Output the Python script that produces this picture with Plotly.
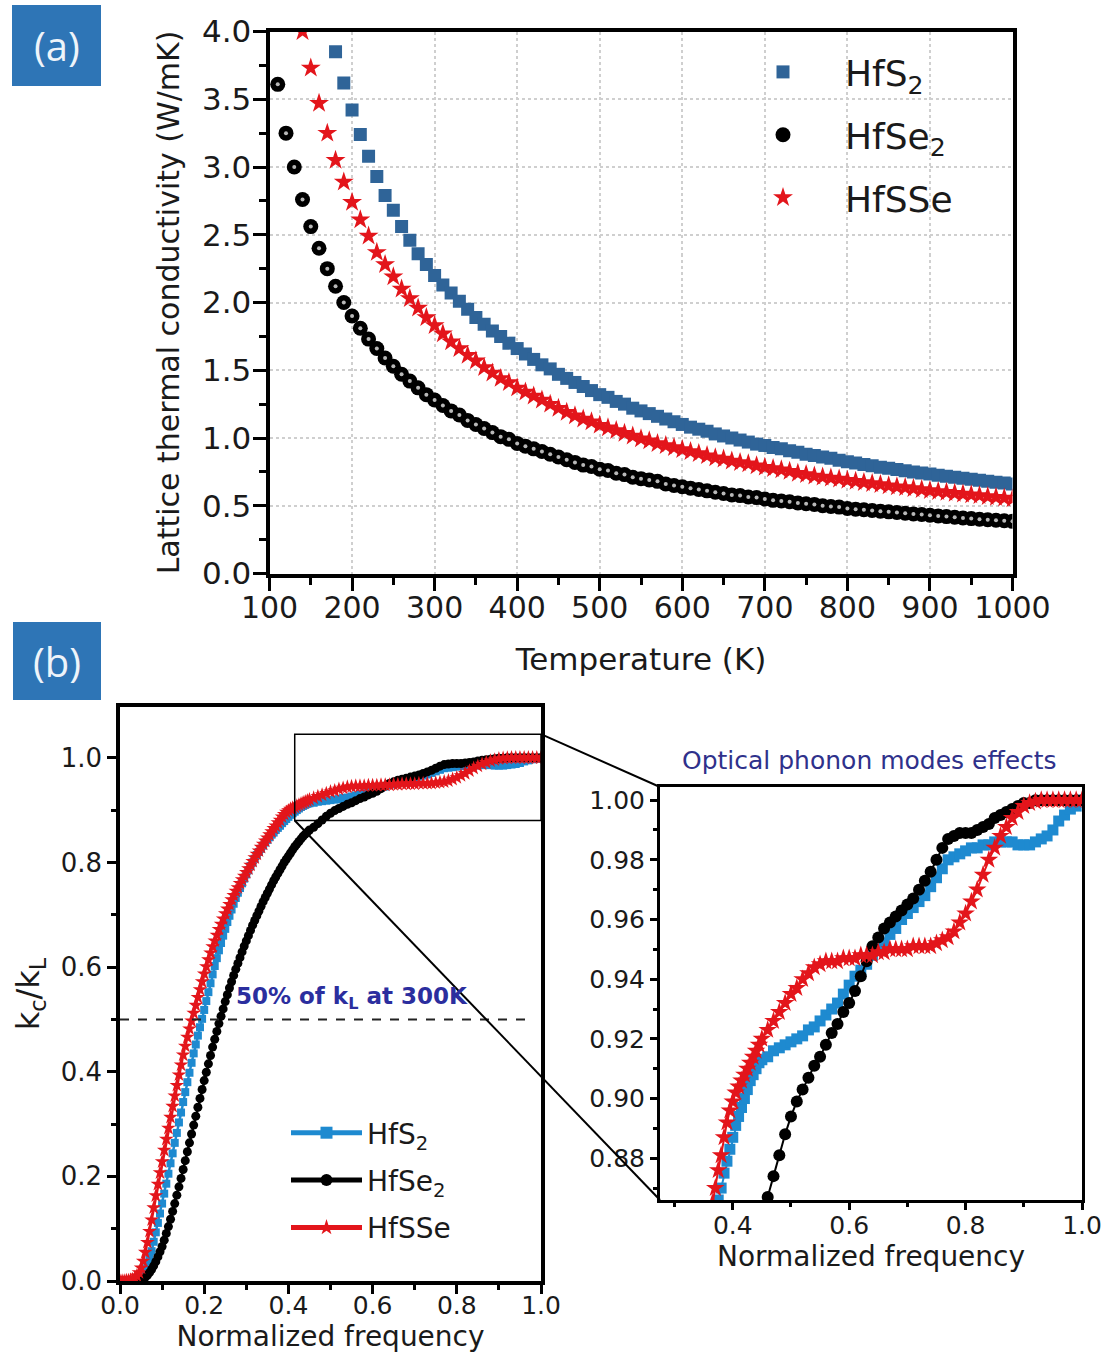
import plotly.graph_objects as go

W, H = 1109, 1357
FONT = "DejaVu Sans"

# ---------------- panel (a): lattice thermal conductivity vs temperature ----------------
temp_hfs2 = list(range(180, 1001, 10))
kappa_hfs2 = [
    3.85, 3.62, 3.42, 3.24, 3.08, 2.93, 2.79, 2.68, 2.56, 2.46,
    2.36, 2.28, 2.20, 2.13, 2.07, 2.01, 1.95, 1.89, 1.84, 1.79,
    1.75, 1.70, 1.66, 1.62, 1.58, 1.54, 1.51, 1.47, 1.44, 1.41,
    1.38, 1.35, 1.32, 1.30, 1.27, 1.25, 1.22, 1.20, 1.18, 1.16,
    1.14, 1.12, 1.10, 1.08, 1.065, 1.05, 1.03, 1.015, 1.00, 0.985,
    0.97, 0.955, 0.945, 0.93, 0.92, 0.905, 0.895, 0.88, 0.87, 0.86,
    0.85, 0.835, 0.825, 0.815, 0.805, 0.795, 0.785, 0.777, 0.768, 0.759,
    0.75, 0.742, 0.734, 0.726, 0.718, 0.71, 0.703, 0.695, 0.688, 0.681,
    0.674, 0.667, 0.66]

temp_hfse2 = list(range(110, 1001, 10))
kappa_hfse2 = [
    3.61, 3.25, 3.00, 2.76, 2.56, 2.40, 2.25, 2.12, 2.00, 1.90,
    1.81, 1.73, 1.66, 1.59, 1.53, 1.47, 1.42, 1.37, 1.32, 1.28,
    1.24, 1.20, 1.17, 1.13, 1.10, 1.07, 1.04, 1.01, 0.99, 0.96,
    0.94, 0.92, 0.90, 0.88, 0.86, 0.84, 0.82, 0.80, 0.79, 0.77,
    0.76, 0.74, 0.73, 0.71, 0.70, 0.69, 0.68, 0.66, 0.65, 0.64,
    0.63, 0.62, 0.61, 0.60, 0.59, 0.58, 0.575, 0.565, 0.56, 0.55,
    0.54, 0.535, 0.53, 0.52, 0.515, 0.51, 0.50, 0.495, 0.49, 0.48,
    0.475, 0.47, 0.465, 0.46, 0.455, 0.45, 0.445, 0.44, 0.435, 0.43,
    0.425, 0.42, 0.415, 0.41, 0.405, 0.40, 0.397, 0.393, 0.389, 0.385]

temp_hfsse = list(range(140, 1001, 10))
kappa_hfsse = [
    4.00, 3.73, 3.47, 3.25, 3.05, 2.89, 2.74, 2.61, 2.49, 2.37,
    2.28, 2.19, 2.10, 2.03, 1.96, 1.89, 1.83, 1.77, 1.71, 1.66,
    1.61, 1.57, 1.52, 1.48, 1.44, 1.41, 1.37, 1.34, 1.31, 1.28,
    1.25, 1.22, 1.19, 1.165, 1.14, 1.12, 1.095, 1.075, 1.055, 1.035,
    1.015, 0.995, 0.98, 0.96, 0.945, 0.93, 0.915, 0.90, 0.885, 0.87,
    0.855, 0.845, 0.83, 0.82, 0.81, 0.795, 0.785, 0.775, 0.765, 0.755,
    0.74, 0.73, 0.72, 0.713, 0.705, 0.697, 0.688, 0.68, 0.672, 0.664,
    0.656, 0.648, 0.641, 0.634, 0.627, 0.62, 0.613, 0.606, 0.60, 0.593,
    0.587, 0.581, 0.575, 0.569, 0.563, 0.557, 0.551]

# ---------------- panel (b): cumulative k_c/k_L vs normalized frequency ----------------
freq = [
    0.000, 0.005, 0.010, 0.015, 0.020, 0.025, 0.030, 0.035, 0.040, 0.045,
    0.050, 0.055, 0.060, 0.065, 0.070, 0.075, 0.080, 0.085, 0.090, 0.095,
    0.100, 0.105, 0.110, 0.115, 0.120, 0.125, 0.130, 0.135, 0.140, 0.145,
    0.150, 0.155, 0.160, 0.165, 0.170, 0.175, 0.180, 0.185, 0.190, 0.195,
    0.200, 0.205, 0.210, 0.215, 0.220, 0.225, 0.230, 0.235, 0.240, 0.245,
    0.250, 0.255, 0.260, 0.265, 0.270, 0.275, 0.280, 0.285, 0.290, 0.295,
    0.300, 0.305, 0.310, 0.315, 0.320, 0.325, 0.330, 0.335, 0.340, 0.345,
    0.350, 0.355, 0.360, 0.365, 0.370, 0.375, 0.380, 0.385, 0.390, 0.395,
    0.400, 0.405, 0.410, 0.415, 0.420, 0.425, 0.430, 0.435, 0.440, 0.445,
    0.450,
    0.46, 0.47, 0.48, 0.49, 0.50, 0.51, 0.52, 0.53, 0.54, 0.55,
    0.56, 0.57, 0.58, 0.59, 0.60, 0.61, 0.62, 0.63, 0.64, 0.65,
    0.66, 0.67, 0.68, 0.69, 0.70, 0.71, 0.72, 0.73, 0.74, 0.75,
    0.76, 0.77, 0.78, 0.79, 0.80, 0.81, 0.82, 0.83, 0.84, 0.85,
    0.86, 0.87, 0.88, 0.89, 0.90, 0.91, 0.92, 0.93, 0.94, 0.95,
    0.96, 0.97, 0.98, 0.99, 1.00]

cum_hfs2 = [
    0.000, 0.000, 0.000, 0.000, 0.000, 0.001, 0.001, 0.002, 0.004, 0.007,
    0.011, 0.016, 0.022, 0.031, 0.042, 0.057, 0.075, 0.093, 0.111, 0.129,
    0.148, 0.167, 0.186, 0.205, 0.225, 0.244, 0.264, 0.283, 0.303, 0.322,
    0.342, 0.361, 0.380, 0.398, 0.417, 0.435, 0.452, 0.469, 0.485, 0.501,
    0.518, 0.535, 0.552, 0.569, 0.586, 0.602, 0.617, 0.632, 0.646, 0.660,
    0.673, 0.686, 0.698, 0.710, 0.721, 0.732, 0.742, 0.751, 0.760, 0.769,
    0.777, 0.785, 0.793, 0.800, 0.807, 0.814, 0.820, 0.826, 0.832, 0.838,
    0.843, 0.848, 0.853, 0.857, 0.862, 0.866, 0.870, 0.875, 0.879, 0.883,
    0.887, 0.891, 0.894, 0.897, 0.900, 0.903, 0.906, 0.908, 0.910, 0.912,
    0.913,
    0.914, 0.916, 0.917, 0.918, 0.919, 0.920, 0.921, 0.923, 0.924, 0.926,
    0.928, 0.930, 0.932, 0.935, 0.938, 0.941, 0.943, 0.945, 0.948, 0.950,
    0.952, 0.955, 0.957, 0.960, 0.962, 0.964, 0.966, 0.968, 0.971, 0.974,
    0.977, 0.980, 0.981, 0.982, 0.983, 0.984, 0.984, 0.985, 0.985, 0.986,
    0.986, 0.986, 0.986, 0.985, 0.985, 0.985, 0.986, 0.987, 0.988, 0.990,
    0.993, 0.995, 0.997, 0.998, 1.000]

cum_hfse2 = [
    0.000, 0.000, 0.000, 0.000, 0.000, 0.000, 0.000, 0.000, 0.001, 0.001,
    0.002, 0.004, 0.007, 0.011, 0.016, 0.022, 0.029, 0.037, 0.046, 0.056,
    0.066, 0.078, 0.091, 0.104, 0.118, 0.133, 0.148, 0.164, 0.180, 0.196,
    0.213, 0.230, 0.247, 0.264, 0.281, 0.298, 0.315, 0.332, 0.349, 0.366,
    0.383, 0.399, 0.415, 0.431, 0.447, 0.462, 0.477, 0.492, 0.506, 0.520,
    0.534, 0.547, 0.560, 0.572, 0.584, 0.596, 0.607, 0.618, 0.629, 0.640,
    0.650, 0.660, 0.670, 0.680, 0.689, 0.698, 0.707, 0.716, 0.725, 0.733,
    0.741, 0.749, 0.757, 0.765, 0.772, 0.779, 0.786, 0.793, 0.800, 0.806,
    0.812, 0.818, 0.824, 0.830, 0.835, 0.840, 0.845, 0.850, 0.854, 0.858,
    0.862,
    0.867, 0.874, 0.881, 0.888, 0.894, 0.899, 0.903, 0.907, 0.911, 0.914,
    0.918, 0.922, 0.925, 0.929, 0.932, 0.936, 0.941, 0.946, 0.951, 0.954,
    0.957, 0.959, 0.961, 0.963, 0.965, 0.967, 0.970, 0.973, 0.976, 0.980,
    0.984, 0.987, 0.988, 0.989, 0.989, 0.989, 0.990, 0.991, 0.992, 0.994,
    0.995, 0.996, 0.997, 0.998, 0.999, 0.999, 1.000, 1.000, 1.000, 1.000,
    1.000, 1.000, 1.000, 1.000, 1.000]

cum_hfsse = [
    0.000, 0.000, 0.000, 0.001, 0.001, 0.002, 0.003, 0.006, 0.010, 0.016,
    0.025, 0.038, 0.055, 0.074, 0.095, 0.117, 0.140, 0.163, 0.185, 0.207,
    0.228, 0.250, 0.271, 0.292, 0.313, 0.334, 0.354, 0.374, 0.394, 0.413,
    0.432, 0.449, 0.466, 0.482, 0.497, 0.512, 0.527, 0.542, 0.557, 0.572,
    0.587, 0.601, 0.614, 0.627, 0.639, 0.650, 0.661, 0.672, 0.682, 0.692,
    0.702, 0.711, 0.720, 0.729, 0.737, 0.745, 0.752, 0.760, 0.767, 0.774,
    0.781, 0.788, 0.795, 0.802, 0.809, 0.816, 0.822, 0.829, 0.835, 0.841,
    0.847, 0.853, 0.859, 0.865, 0.870, 0.876, 0.881, 0.887, 0.892, 0.896,
    0.899, 0.902, 0.904, 0.906, 0.908, 0.910, 0.912, 0.914, 0.916, 0.918,
    0.920,
    0.923, 0.926, 0.929, 0.932, 0.935, 0.937, 0.940, 0.942, 0.944, 0.945,
    0.946, 0.946, 0.946, 0.947, 0.947, 0.947, 0.948, 0.948, 0.948, 0.949,
    0.949, 0.950, 0.950, 0.950, 0.950, 0.951, 0.951, 0.951, 0.951, 0.952,
    0.953, 0.954, 0.956, 0.959, 0.962, 0.966, 0.970, 0.975, 0.980, 0.984,
    0.988, 0.991, 0.994, 0.996, 0.998, 0.999, 0.9995, 1.000, 1.000, 1.000,
    1.000, 1.000, 1.000, 1.000, 1.000]

series_names = ["HfS<sub>2</sub>", "HfSe<sub>2</sub>", "HfSSe"]

# colours
BLUE_A = "#2F6498"
BLUE_B = "#1E8AD0"
RED = "#E3151B"
BLACK = "#000000"
LABEL_BLUE = "#2E75B6"

# ---------------- geometry (pixel boxes converted to paper fractions) ----------------
def xdom(l, r):
    return [l / W, r / W]

def ydom(top, bottom):
    return [1 - bottom / H, 1 - top / H]

a_x = dict(dom=xdom(269.5, 1012.5), rng=[100, 1000])
a_y = dict(dom=ydom(31.5, 573.5), rng=[0, 4])
b_x = dict(dom=xdom(120, 541), rng=[0, 1.0])
b_y = dict(dom=ydom(707, 1281), rng=[0, 1.097])
i_x = dict(dom=xdom(660, 1082), rng=[0.275, 1.0])
i_y = dict(dom=ydom(787, 1200), rng=[0.866, 1.0044])


def to_paper(v, ax):
    d, r = ax["dom"], ax["rng"]
    return d[0] + (v - r[0]) / (r[1] - r[0]) * (d[1] - d[0])


fig = go.Figure()

# panel (a) traces
fig.add_trace(go.Scatter(
    x=temp_hfs2, y=kappa_hfs2, mode="markers", name=series_names[0],
    legendgroup="a1", legend="legend",
    marker=dict(symbol="square", size=13, color=BLUE_A),
    xaxis="x", yaxis="y"))
fig.add_trace(go.Scatter(
    x=temp_hfse2, y=kappa_hfse2, mode="markers", name=series_names[1],
    legendgroup="a2", legend="legend",
    marker=dict(symbol="circle", size=15, color=BLACK),
    xaxis="x", yaxis="y"))
# small specular highlight on each ball
fig.add_trace(go.Scatter(
    x=temp_hfse2, y=kappa_hfse2, mode="markers", showlegend=False,
    legendgroup="a2", hoverinfo="skip",
    marker=dict(symbol="circle", size=4, color="#b8b8b8"),
    xaxis="x", yaxis="y"))
fig.add_trace(go.Scatter(
    x=temp_hfsse, y=kappa_hfsse, mode="markers", name=series_names[2],
    legendgroup="a3", legend="legend",
    marker=dict(symbol="star", size=15, color=RED),
    xaxis="x", yaxis="y"))

# panel (b) main traces
b_styles = [
    (cum_hfs2, BLUE_B, "square", 8),
    (cum_hfse2, BLACK, "circle", 9),
    (cum_hfsse, RED, "star", 11),
]
for k, (vals, col, sym, sz) in enumerate(b_styles):
    fig.add_trace(go.Scatter(
        x=freq, y=vals, mode="lines+markers", name=series_names[k],
        legendgroup=f"b{k}", legend="legend2",
        line=dict(color=col, width=2.5),
        marker=dict(symbol=sym, size=sz, color=col),
        xaxis="x2", yaxis="y2"))

# inset traces
for k, (vals, col, sym, sz) in enumerate(b_styles):
    fig.add_trace(go.Scatter(
        x=freq, y=vals, mode="lines+markers", showlegend=False,
        line=dict(color=col, width=2),
        marker=dict(symbol=sym, size=sz + 3, color=col),
        xaxis="x3", yaxis="y3"))


def axis_style(ax, **kw):
    base = dict(domain=ax["dom"], range=ax["rng"], showline=True, mirror=True,
                linecolor="black", zeroline=False, ticks="outside", automargin=False,
                tickcolor="black", showgrid=False,
                tickfont=dict(family=FONT, color="#1a1a1a"))
    base.update(kw)
    return base


grid = dict(showgrid=True, gridcolor="#cfcfcf", griddash="dot", gridwidth=1.5)

fig.update_layout(
    width=W, height=H,
    margin=dict(l=0, r=0, t=0, b=0, autoexpand=False),
    paper_bgcolor="white", plot_bgcolor="rgba(0,0,0,0)",
    font=dict(family=FONT, color="#1a1a1a"),
    xaxis=axis_style(a_x, anchor="y", dtick=100, linewidth=4, ticklen=13, tickwidth=3,
                     ticklabelstandoff=-9,
                     tickfont=dict(family=FONT, size=30, color="#1a1a1a"),
                     minor=dict(dtick=50, ticks="outside", ticklen=7, tickwidth=3, tickcolor="black"),
                     title=dict(text="Temperature (K)", font=dict(family=FONT, size=31), standoff=26),
                     **grid),
    yaxis=axis_style(a_y, anchor="x", dtick=0.5, tickformat=".1f", linewidth=4, ticklen=13, tickwidth=3,
                     ticklabelstandoff=-5,
                     tickfont=dict(family=FONT, size=31, color="#1a1a1a"),
                     minor=dict(dtick=0.25, ticks="outside", ticklen=7, tickwidth=3, tickcolor="black"),
                     title=dict(text="Lattice thermal conductivity (W/mK)",
                                font=dict(family=FONT, size=30), standoff=14),
                     **grid),
    xaxis2=axis_style(b_x, anchor="y2", dtick=0.2, tickformat=".1f", linewidth=3.5, ticklen=9, tickwidth=2.5,
                      ticklabelstandoff=-10,
                      tickfont=dict(family=FONT, size=25, color="#1a1a1a"),
                      minor=dict(dtick=0.1, ticks="outside", ticklen=5, tickwidth=2.5, tickcolor="black"),
                      title=dict(text="Normalized frequency", font=dict(family=FONT, size=28), standoff=8)),
    yaxis2=axis_style(b_y, anchor="x2", dtick=0.2, tickformat=".1f", linewidth=3.5, ticklen=9, tickwidth=2.5,
                      tickfont=dict(family=FONT, size=26, color="#1a1a1a"),
                      minor=dict(dtick=0.1, ticks="outside", ticklen=5, tickwidth=2.5, tickcolor="black"),
                      title=dict(text="k<sub>c</sub>/k<sub>L</sub>", font=dict(family=FONT, size=32), standoff=12)),
    xaxis3=axis_style(i_x, anchor="y3", dtick=0.2, tickformat=".1f", linewidth=3, ticklen=7, tickwidth=2.5,
                      ticklabelstandoff=-6,
                      tickfont=dict(family=FONT, size=25, color="#1a1a1a"),
                      minor=dict(dtick=0.1, ticks="outside", ticklen=4, tickwidth=2.5, tickcolor="black"),
                      title=dict(text="Normalized frequency", font=dict(family=FONT, size=28), standoff=6)),
    yaxis3=axis_style(i_y, anchor="x3", dtick=0.02, tickformat=".2f", linewidth=3, ticklen=7, tickwidth=2.5,
                      tickfont=dict(family=FONT, size=25, color="#1a1a1a"),
                      minor=dict(dtick=0.01, ticks="outside", ticklen=4, tickwidth=2.5, tickcolor="black")),
    legend=dict(x=721 / W, y=1 - 42 / H, xanchor="left", yanchor="top",
                bgcolor="rgba(0,0,0,0)", borderwidth=0, itemwidth=114,
                tracegroupgap=13, font=dict(family=FONT, size=36, color="#1a1a1a")),
    legend2=dict(x=286 / W, y=1 - 1108 / H, xanchor="left", yanchor="top",
                 bgcolor="rgba(0,0,0,0)", borderwidth=0, itemwidth=71, itemsizing="constant",
                 tracegroupgap=8, font=dict(family=FONT, size=28, color="#1a1a1a")),
    showlegend=True,
)

shapes = []
# panel labels
for (l, t, r, b) in [(12, 5, 101, 86), (13, 622, 101, 700)]:
    shapes.append(dict(type="rect", xref="paper", yref="paper",
                       x0=l / W, x1=r / W, y0=1 - b / H, y1=1 - t / H,
                       fillcolor=LABEL_BLUE, line=dict(width=0), layer="above"))
# 50 % reference line
shapes.append(dict(type="line", xref="x2", yref="y2", x0=0, x1=0.967, y0=0.5, y1=0.5,
                   line=dict(color="#222222", width=2, dash="dash")))
# zoom window on the main (b) axes
zoom_box = dict(x0=0.415, x1=1.0, y0=0.88, y1=1.045)
shapes.append(dict(type="rect", xref="x2", yref="y2", **zoom_box,
                   line=dict(color="black", width=1.5), layer="above"))
# connectors from the zoom window to the inset frame
shapes.append(dict(type="line", xref="paper", yref="paper",
                   x0=to_paper(zoom_box["x1"], b_x), y0=to_paper(zoom_box["y1"], b_y),
                   x1=i_x["dom"][0], y1=i_y["dom"][1],
                   line=dict(color="black", width=2), layer="above"))
shapes.append(dict(type="line", xref="paper", yref="paper",
                   x0=to_paper(zoom_box["x0"], b_x), y0=to_paper(zoom_box["y0"], b_y),
                   x1=i_x["dom"][0], y1=i_y["dom"][0],
                   line=dict(color="black", width=2), layer="above"))
fig.update_layout(shapes=shapes)

annotations = [
    dict(text="(a)", x=56.5 / W, y=1 - 45.5 / H),
    dict(text="(b)", x=57 / W, y=1 - 661 / H),
]
annotations = [dict(a, xref="paper", yref="paper", showarrow=False, xanchor="center", yanchor="middle",
                    font=dict(family="Open Sans", size=40, color="#eef4fa")) for a in annotations]
annotations.append(dict(text="<b>50% of k<sub>L</sub> at 300K</b>", xref="paper", yref="paper",
                        x=352 / W, y=1 - 998 / H, showarrow=False, xanchor="center", yanchor="middle",
                        font=dict(family=FONT, size=23, color="#2B2E9E")))
annotations.append(dict(text="Optical phonon modes effects", xref="paper", yref="paper",
                        x=869 / W, y=1 - 760 / H, showarrow=False, xanchor="center", yanchor="middle",
                        font=dict(family=FONT, size=25, color="#2F318B")))
fig.update_layout(annotations=annotations)

fig.write_html("out.html")
